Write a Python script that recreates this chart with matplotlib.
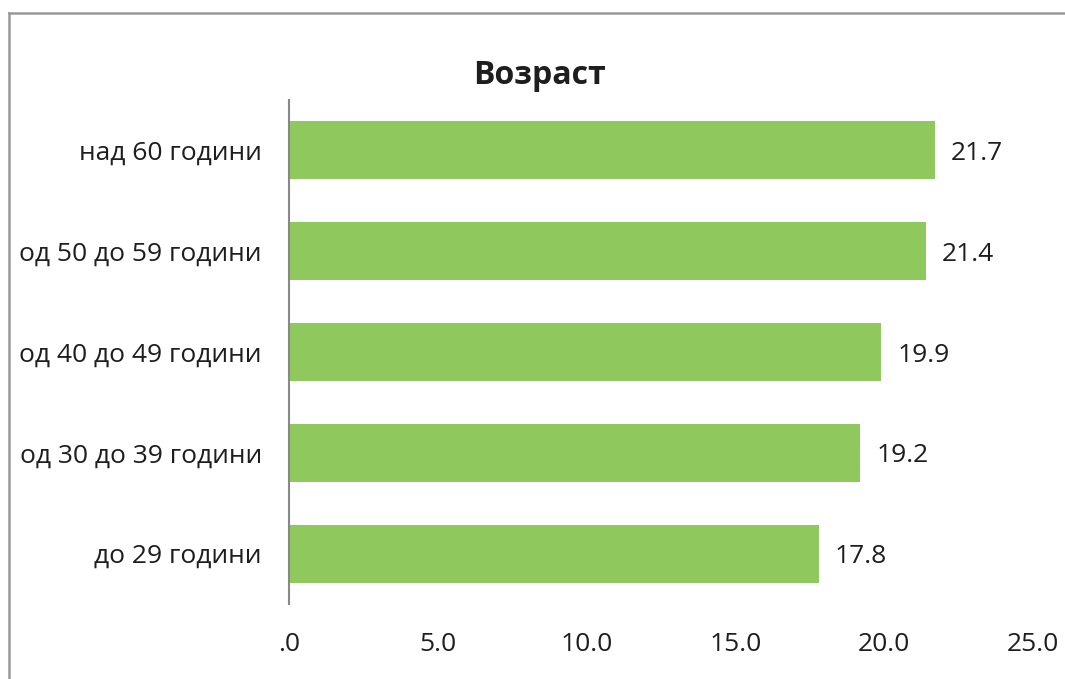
import matplotlib
matplotlib.use("Agg")
import matplotlib.pyplot as plt
from matplotlib.lines import Line2D

categories = ["до 29 години", "од 30 до 39 години", "од 40 до 49 години",
              "од 50 до 59 години", "над 60 години"]
values = [17.8, 19.2, 19.9, 21.4, 21.7]
xticks = [0, 5, 10, 15, 20, 25]
xtick_labels = [".0", "5.0", "10.0", "15.0", "20.0", "25.0"]
title = "Возраст"

plt.rcParams['font.family'] = ['Open Sans', 'DejaVu Sans']

W, H = 1065, 679
fig = plt.figure(figsize=(W / 100, H / 100), dpi=100)
ax = fig.add_axes([289 / W, (H - 604) / H, (1033 - 289) / W, (604 - 100) / H])

fs = 19
txt_color = "#1e1e1e"
bar_color = "#8FC95D"
ypos = list(range(len(categories)))
ax.barh(ypos, values, height=0.575, color=bar_color)
ax.set_xlim(0, 25)
ax.set_ylim(-0.5, 4.5)
ax.set_yticks(ypos)
ax.set_yticklabels(categories, fontsize=fs, color=txt_color)
ax.set_xticks(xticks)
ax.set_xticklabels(xtick_labels, fontsize=fs, color=txt_color)
ax.tick_params(axis="both", length=0)
ax.tick_params(axis="y", pad=19.5)
ax.tick_params(axis="x", pad=20)
for s in ["top", "right", "bottom"]:
    ax.spines[s].set_visible(False)
ax.spines["left"].set_color("#888888")
ax.spines["left"].set_linewidth(1.5)

for y, v in zip(ypos, values):
    ax.annotate(f"{v:.1f}", (v, y), xytext=(11.5, 0), textcoords="offset points",
                va="center_baseline", ha="left", fontsize=fs, color=txt_color)

fig.text(540 / W, 1 - 75 / H, title, ha="center", va="center",
         fontsize=23, fontweight="bold", color=txt_color)

# outer frame (top and left edges visible)
fig.add_artist(Line2D([9 / W, 1.0], [1 - 12.5 / H, 1 - 12.5 / H],
                      transform=fig.transFigure, color="#999999", lw=1.8))
fig.add_artist(Line2D([9 / W, 9 / W], [0, 1 - 12.5 / H],
                      transform=fig.transFigure, color="#999999", lw=1.8))

fig.savefig("out.png", dpi=100)
